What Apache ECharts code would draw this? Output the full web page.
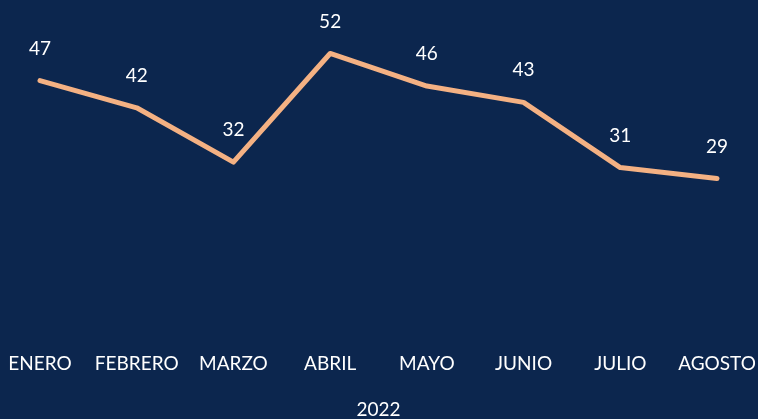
<!DOCTYPE html>
<html>
<head>
<meta charset="utf-8">
<script src="https://cdn.jsdelivr.net/npm/echarts@6/dist/echarts.min.js"></script>
<style>
  html, body { margin: 0; padding: 0; background: #0c264e; }
  #chart { width: 758px; height: 419px; }
</style>
</head>
<body>
<div id="chart"></div>
<script>
var months = ['ENERO', 'FEBRERO', 'MARZO', 'ABRIL', 'MAYO', 'JUNIO', 'JULIO', 'AGOSTO'];
var values = [47, 42, 32, 52, 46, 43, 31, 29];
var yearLabel = '2022';

var option = {
    backgroundColor: '#0c264e',
    textStyle: { fontFamily: 'Lato' },
    grid: { left: 40, right: 41, top: 10, bottom: 83, outerBoundsMode: 'none', containLabel: false },
    xAxis: {
        type: 'category',
        data: months,
        boundaryGap: false,
        name: yearLabel,
        nameLocation: 'middle',
        nameGap: 64,
        nameTextStyle: { color: '#fff', fontSize: 19, fontFamily: 'Lato' },
        axisLine: { show: false },
        axisTick: { show: false },
        axisLabel: { color: '#fff', fontSize: 19, margin: 18, interval: 0, hideOverlap: false, fontFamily: 'Lato' }
    },
    yAxis: {
        type: 'value',
        min: 0,
        max: 60,
        show: false,
        splitLine: { show: false }
    },
    series: [{
        type: 'line',
        data: values,
        symbol: 'circle',
        symbolSize: 1,
        showSymbol: true,
        itemStyle: { color: 'rgba(0,0,0,0)', borderWidth: 0 },
        lineStyle: { color: '#f4b183', width: 5, cap: 'round', join: 'round' },
        label: {
            show: true,
            position: 'top',
            distance: 22,
            color: '#fff',
            fontSize: 19,
            fontFamily: 'Lato'
        }
    }]
};

var myChart = echarts.init(document.getElementById('chart'));
myChart.setOption(option);
</script>
</body>
</html>
